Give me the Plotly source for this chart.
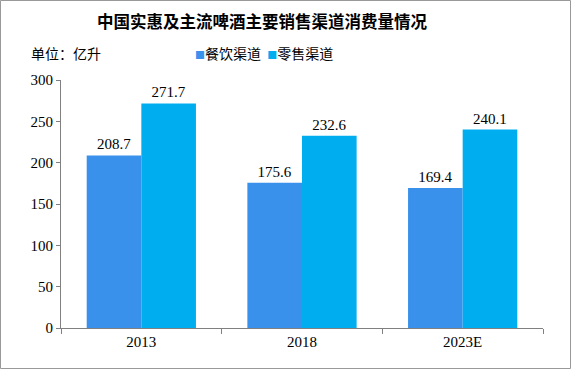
import plotly.graph_objects as go

categories = ["2013", "2018", "2023E"]
catering = [208.7, 175.6, 169.4]
retail = [271.7, 232.6, 240.1]
series_names = ["餐饮渠道", "零售渠道"]
series_colors = ["#3A91EC", "#00AEEF"]
title_text = "中国实惠及主流啤酒主要销售渠道消费量情况"
unit_text = "单位：亿升"

W, H = 571, 369
L, R, T, B = 61, 28, 80, 41
pw, ph = W - L - R, H - T - B

def px_x(p):
    return (p - L) / pw

def px_y(p):
    return (H - B - p) / ph

num_font = dict(family="Liberation Serif, DejaVu Serif", size=15, color="#000000")
cjk = "Noto Sans CJK SC"

fig = go.Figure()
for name, vals, col in zip(series_names, [catering, retail], series_colors):
    fig.add_trace(go.Bar(x=categories, y=vals, name=name,
                         marker=dict(color=col, line=dict(width=0)),
                         text=[f"{v:.1f}" for v in vals], textposition="outside",
                         textfont=num_font, cliponaxis=False, showlegend=False))

legend_html = "".join(
    f"<span style='color:{c};font-size:10px'>■</span>{n}" + ("  " if i == 0 else "")
    for i, (n, c) in enumerate(zip(series_names, series_colors))
)

fig.update_layout(
    width=W, height=H,
    margin=dict(l=L, r=R, t=T, b=B, autoexpand=False),
    paper_bgcolor="white", plot_bgcolor="white",
    barmode="group", bargap=0.32, bargroupgap=0,
    title=dict(text=title_text, x=262 / W, xref="container", xanchor="center",
               y=1 - 22 / H, yanchor="middle",
               font=dict(family=cjk, size=16.5, color="#000000", weight="bold")),
    xaxis=dict(type="category", showline=True, linecolor="#808080", linewidth=1,
               ticks="outside", tickson="boundaries", ticklen=5, tickcolor="#808080",
               tickfont=num_font, showgrid=False, zeroline=False),
    yaxis=dict(range=[0, 300], dtick=50, showline=True, linecolor="#808080", linewidth=1,
               ticks="outside", ticklen=4, tickcolor="#808080", tickfont=num_font,
               showgrid=False, zeroline=False),
    annotations=[
        dict(text=unit_text, x=px_x(29), y=px_y(53), xref="paper", yref="paper",
             xanchor="left", yanchor="middle", showarrow=False,
             font=dict(family=cjk, size=14, color="#000000")),
        dict(text=legend_html, x=px_x(193), y=px_y(53), xref="paper", yref="paper",
             xanchor="left", yanchor="middle", showarrow=False,
             font=dict(family=cjk, size=14, color="#000000")),
    ],
    shapes=[dict(type="rect", xref="paper", yref="paper",
                 x0=px_x(0.5), x1=px_x(W - 0.5), y0=px_y(H - 0.5), y1=px_y(0.5),
                 line=dict(color="#999999", width=1))],
)

fig.write_html("out.html", config={"displayModeBar": False},
               post_script="document.body.style.margin='0';")
